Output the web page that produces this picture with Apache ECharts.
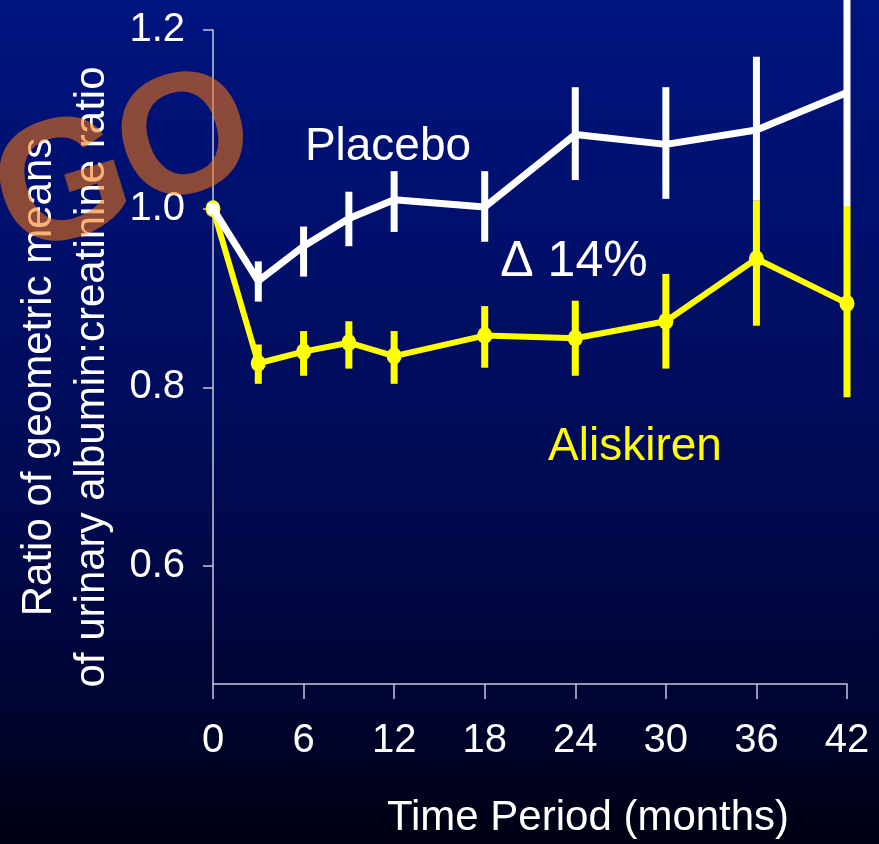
<!DOCTYPE html>
<html>
<head>
<meta charset="utf-8">
<script src="https://cdn.jsdelivr.net/npm/echarts@6/dist/echarts.min.js"></script>
<style>
  html, body { margin: 0; padding: 0; background: #000010; }
  #chart { width: 879px; height: 844px; }
</style>
</head>
<body>
<div id="chart"></div>
<script>
// Follow-up visits (months)
const months = [0, 3, 6, 9, 12, 18, 24, 30, 36, 42];

// Ratio of geometric means of UACR, with 95% CI bounds
const placebo     = [1.000, 0.919, 0.958, 0.989, 1.010, 1.002, 1.083, 1.072, 1.088, 1.130];
const placeboLow  = [null,  0.896, 0.924, 0.958, 0.974, 0.963, 1.032, 1.011, 1.009, 1.003];
const placeboHigh = [null,  0.941, 0.980, 1.019, 1.042, 1.042, 1.136, 1.136, 1.170, 1.260];

const aliskiren     = [1.000, 0.827, 0.840, 0.850, 0.835, 0.858, 0.855, 0.874, 0.944, 0.894];
const aliskirenLow  = [null,  0.804, 0.813, 0.821, 0.804, 0.822, 0.813, 0.821, 0.869, 0.789];
const aliskirenHigh = [null,  0.848, 0.863, 0.874, 0.863, 0.891, 0.897, 0.927, 1.009, 1.003];

// Axis tick labels
const xTicks = [0, 6, 12, 18, 24, 30, 36, 42];
const yTicks = [0.6, 0.8, 1.0, 1.2];

const FONT = '"Liberation Sans", Arial, Helvetica, sans-serif';
const WHITE = '#ffffff';
const YELLOW = '#ffff00';
const AXIS = '#c4c8dc';
const STAMP = 'rgba(245,118,14,0.57)';

function ciData(low, high) {
  const out = [];
  months.forEach((m, i) => {
    if (low[i] != null && high[i] != null) out.push([m, low[i], high[i]]);
  });
  return out;
}

function ciSeries(name, low, high, color) {
  return {
    name: name,
    type: 'custom',
    clip: false,
    data: ciData(low, high),
    encode: { x: 0, y: [1, 2] },
    renderItem: function (params, api) {
      const a = api.coord([api.value(0), api.value(1)]);
      const b = api.coord([api.value(0), api.value(2)]);
      return {
        type: 'line',
        shape: { x1: a[0], y1: a[1], x2: b[0], y2: b[1] },
        style: { stroke: color, lineWidth: 7, lineCap: 'butt' }
      };
    }
  };
}

// one letter of the translucent corner stamp
function stampLetter(ch, x, y) {
  return {
    type: 'text', x: x, y: y, rotation: 17 * Math.PI / 180,
    style: {
      text: ch, fill: STAMP, font: 'bold 172px ' + FONT,
      textAlign: 'center', textVerticalAlign: 'middle'
    },
    z: 100
  };
}

const chart = echarts.init(document.getElementById('chart'), null, { renderer: 'canvas' });

const option = {
  animation: false,
  backgroundColor: {
    type: 'linear', x: 0, y: 0, x2: 0, y2: 1,
    colorStops: [
      { offset: 0.0, color: '#00147f' },
      { offset: 0.3, color: '#000f6a' },
      { offset: 0.55, color: '#000b55' },
      { offset: 0.8, color: '#000537' },
      { offset: 1.0, color: '#000012' }
    ]
  },
  grid: { left: 213, right: 32, top: 30, bottom: 156, containLabel: false },
  xAxis: {
    type: 'value',
    min: 0,
    max: 42,
    name: 'Time Period (months)',
    nameLocation: 'middle',
    nameGap: 113,
    nameTextStyle: { color: WHITE, fontSize: 42, fontFamily: FONT, padding: [0, 0, 0, 116] },
    axisLine: { lineStyle: { color: AXIS, width: 1.5 } },
    axisTick: { show: true, length: 15, customValues: xTicks, lineStyle: { color: AXIS, width: 1.5 } },
    axisLabel: { color: WHITE, fontSize: 40, fontFamily: FONT, margin: 37, customValues: xTicks },
    splitLine: { show: false }
  },
  yAxis: {
    type: 'value',
    min: 0.468,
    max: 1.2,
    axisLine: { show: true, lineStyle: { color: AXIS, width: 1.5 } },
    axisTick: { show: true, length: 10, customValues: yTicks, lineStyle: { color: AXIS, width: 1.5 } },
    axisLabel: {
      color: WHITE, fontSize: 40, fontFamily: FONT, margin: 28,
      customValues: yTicks,
      formatter: function (v) { return v.toFixed(1); }
    },
    splitLine: { show: false }
  },
  series: [
    ciSeries('Placebo CI', placeboLow, placeboHigh, WHITE),
    {
      name: 'Aliskiren',
      type: 'line',
      data: months.map((m, i) => [m, aliskiren[i]]),
      symbol: 'circle',
      symbolSize: [15, 17],
      lineStyle: { color: YELLOW, width: 6 },
      itemStyle: { color: YELLOW },
      z: 3
    },
    {
      name: 'Placebo',
      type: 'line',
      data: months.map((m, i) => i === 0
        ? { value: [m, placebo[i]], symbol: 'rect', symbolSize: 11 }
        : { value: [m, placebo[i]], symbol: 'none' }),
      symbol: 'none',
      lineStyle: { color: WHITE, width: 7 },
      itemStyle: { color: WHITE },
      z: 4
    },
    Object.assign(ciSeries('Aliskiren CI', aliskirenLow, aliskirenHigh, YELLOW), { z: 5 })
  ],
  graphic: [
    {
      type: 'text', x: 66, y: 377, rotation: Math.PI / 2,
      style: {
        text: 'Ratio of geometric means\nof urinary albumin:creatinine ratio',
        fill: WHITE, font: '42px ' + FONT, lineHeight: 53,
        textAlign: 'center', textVerticalAlign: 'middle'
      },
      z: 10
    },
    {
      type: 'text', x: 388, y: 147,
      style: { text: 'Placebo', fill: WHITE, font: '46px ' + FONT, textAlign: 'center', textVerticalAlign: 'middle' },
      z: 10
    },
    {
      type: 'text', x: 574, y: 262,
      style: { text: 'Δ 14%', fill: WHITE, font: '50px ' + FONT, textAlign: 'center', textVerticalAlign: 'middle' },
      z: 10
    },
    {
      type: 'text', x: 635, y: 447,
      style: { text: 'Aliskiren', fill: YELLOW, font: '46px ' + FONT, textAlign: 'center', textVerticalAlign: 'middle' },
      z: 10
    },
    stampLetter('G', 64, 190),
    stampLetter('O', 186, 144)
  ]
};

chart.setOption(option);
</script>
</body>
</html>
